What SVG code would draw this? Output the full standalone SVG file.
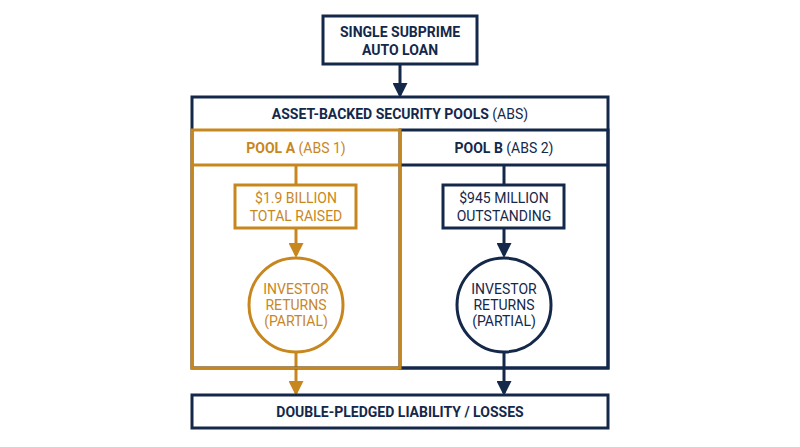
<svg xmlns="http://www.w3.org/2000/svg" width="800" height="447" viewBox="0 0 800 447">
<style>
text{font-family:Roboto,"Liberation Sans",sans-serif;font-size:14px;text-anchor:middle}
.n{fill:none;stroke:#14284a;stroke-width:3}
.o{fill:none;stroke:#c8871e;stroke-width:3}
.tn{fill:#14284a}
.to{fill:#c8871e}
.b{font-weight:bold}
</style>
<defs>
<marker id="an" markerWidth="5" markerHeight="5" refX="4" refY="2.5" orient="auto" markerUnits="strokeWidth"><path d="M0,0L5,2.5L0,5Z" fill="#14284a"/></marker>
<marker id="ao" markerWidth="5" markerHeight="5" refX="4" refY="2.5" orient="auto" markerUnits="strokeWidth"><path d="M0,0L5,2.5L0,5Z" fill="#c8871e"/></marker>
</defs>
<rect width="800" height="447" fill="#fff"/>
<g id="connectors">
<line class="n" x1="400" y1="64" x2="400" y2="95" marker-end="url(#an)"/>
<line class="o" x1="296" y1="165" x2="296" y2="185"/>
<line class="o" x1="296" y1="228" x2="296" y2="255" marker-end="url(#ao)"/>
<line class="o" x1="296" y1="353" x2="296" y2="393" marker-end="url(#ao)"/>
<line class="n" x1="504" y1="165" x2="504" y2="185"/>
<line class="n" x1="504" y1="228" x2="504" y2="255" marker-end="url(#an)"/>
<line class="n" x1="504" y1="353" x2="504" y2="393" marker-end="url(#an)"/>
</g>
<g id="loan"><rect class="n" x="323" y="16" width="154" height="48"/>
<text class="tn b" x="400" y="37">SINGLE SUBPRIME</text><text class="tn b" x="400" y="55">AUTO LOAN</text></g>
<g id="abs"><rect class="n" x="192" y="97" width="416" height="271"/>
<text class="tn" x="400" y="119"><tspan class="b">ASSET-BACKED SECURITY POOLS</tspan> (ABS)</text></g>
<g id="poolB"><rect class="n" x="400" y="130" width="208" height="238"/><line class="n" x1="400" y1="165" x2="608" y2="165"/>
<text class="tn" x="504" y="153"><tspan class="b">POOL B</tspan> (ABS 2)</text></g>
<g id="poolA"><rect class="o" x="192" y="130" width="208" height="238"/><line class="o" x1="192" y1="165" x2="400" y2="165"/>
<text class="to" x="296" y="153"><tspan class="b">POOL A</tspan> (ABS 1)</text></g>
<g id="moneyA"><rect class="o" x="235" y="185" width="121" height="43"/>
<text class="to" x="296" y="203">$1.9 BILLION</text><text class="to" x="296" y="221">TOTAL RAISED</text></g>
<g id="moneyB"><rect class="n" x="443" y="185" width="121" height="43"/>
<text class="tn" x="504" y="203">$945 MILLION</text><text class="tn" x="504" y="221">OUTSTANDING</text></g>
<g id="retA"><circle class="o" cx="296" cy="305" r="47"/>
<text class="to" x="296" y="294">INVESTOR</text><text class="to" x="296" y="310">RETURNS</text><text class="to" x="296" y="326">(PARTIAL)</text></g>
<g id="retB"><circle class="n" cx="504" cy="305" r="47"/>
<text class="tn" x="504" y="294">INVESTOR</text><text class="tn" x="504" y="310">RETURNS</text><text class="tn" x="504" y="326">(PARTIAL)</text></g>
<g id="loss"><rect class="n" x="192" y="395" width="416" height="33"/>
<text class="tn b" x="400" y="417">DOUBLE-PLEDGED LIABILITY / LOSSES</text></g>
</svg>
